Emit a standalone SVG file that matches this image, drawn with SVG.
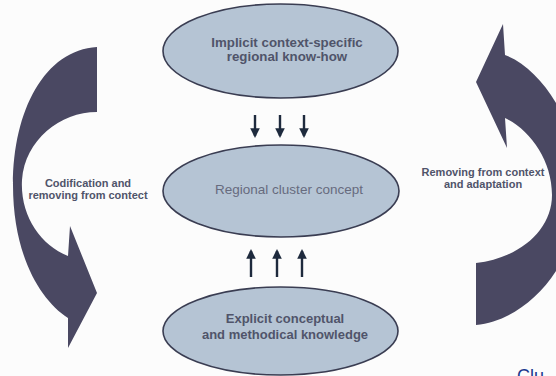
<svg xmlns="http://www.w3.org/2000/svg" width="556" height="376" viewBox="0 0 556 376">
<defs>
<style>
.ell{fill:#b5c4d4;stroke:#3a3d52;stroke-width:1.6}
.bt{font-family:"Liberation Sans",Arial,sans-serif;font-weight:bold;fill:#50546a;text-anchor:middle}
.rt{font-family:"Liberation Sans",Arial,sans-serif;fill:#676b7e;text-anchor:middle}
.big{fill:#4a4862}
.con{stroke:#1e2a3d;stroke-width:2.4;fill:none}
</style>
<marker id="ah" viewBox="0 0 10 10" refX="8" refY="5" markerWidth="4" markerHeight="4" orient="auto" markerUnits="strokeWidth">
<path d="M0,0 L10,5 L0,10 z" fill="#1e2a3d"/>
</marker>
</defs>
<rect width="556" height="376" fill="#fcfcfc"/>
<g id="left-arrow">
<path class="big" d="M97,47 C45,50 13,110 13,185 C13,255 40,300 68,318 L68,348 L97,293 L70,226 L68,256 C40,245 20,215 22,180 C25,140 60,112 97,112 Z"/>
<text class="bt" font-size="11" x="88" y="187">Codification and</text>
<text class="bt" font-size="11" x="88" y="199">removing from contect</text>
</g>
<g id="right-arrow">
<path class="big" d="M503,24 L505,55 C545,70 580,130 580,190 C580,260 530,320 476,325 L476,263 C520,258 552,230 552,195 C552,160 530,130 505,118 L507,148 L476,82 Z"/>
<text class="bt" font-size="11" x="483" y="176">Removing from context</text>
<text class="bt" font-size="11" x="483" y="188">and adaptation</text>
</g>
<g id="implicit">
<ellipse class="ell" cx="280.5" cy="51" rx="117.5" ry="47"/>
<text class="bt" font-size="13.3" x="287" y="47">Implicit context-specific</text>
<text class="bt" font-size="13.3" x="287" y="61">regional know-how</text>
</g>
<g id="cluster">
<ellipse class="ell" cx="281" cy="191" rx="118" ry="46"/>
<text class="rt" font-size="13.5" x="289" y="194">Regional cluster concept</text>
</g>
<g id="explicit">
<ellipse class="ell" cx="280.5" cy="331" rx="117.5" ry="44"/>
<text class="bt" font-size="13" x="285" y="323">Explicit conceptual</text>
<text class="bt" font-size="13" x="285" y="339">and methodical knowledge</text>
</g>
<g id="connectors">
<line class="con" x1="255" y1="115" x2="255" y2="136" marker-end="url(#ah)"/>
<line class="con" x1="280" y1="115" x2="280" y2="136" marker-end="url(#ah)"/>
<line class="con" x1="304" y1="115" x2="304" y2="136" marker-end="url(#ah)"/>
<line class="con" x1="251" y1="277" x2="251" y2="251" marker-end="url(#ah)"/>
<line class="con" x1="277" y1="277" x2="277" y2="251" marker-end="url(#ah)"/>
<line class="con" x1="302" y1="277" x2="302" y2="251" marker-end="url(#ah)"/>
</g>
<text x="517" y="382" font-family="'Liberation Sans',Arial,sans-serif" font-size="18" fill="#1a3a8e">Clu</text>
</svg>
